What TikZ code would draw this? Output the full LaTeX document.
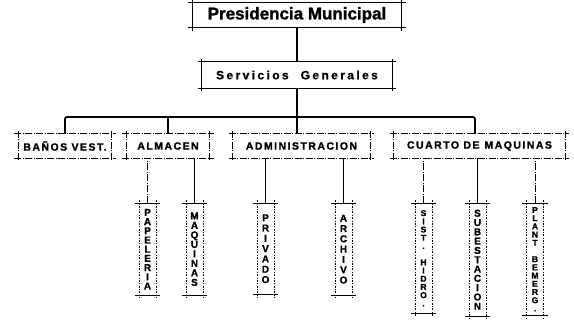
\documentclass[tikz,border=0pt]{standalone}
\usepackage{fontspec}
\setmainfont{Liberation Sans}
\tikzset{
  hand/.style={line width=0.7pt},
  chain/.style={line width=0.7pt, dash pattern=on 7pt off 1.5pt on 1pt off 1.5pt},
  dots/.style={line width=0.6pt, dash pattern=on 2pt off 1.5pt on 0.7pt off 1.5pt},
  main/.style={line width=1.7pt},
  crossbox/.style 2 args={inner sep=0pt, append after command={
      ([xshift=-4pt]\tikzlastnode.north west) edge[#1] ([xshift=4pt]\tikzlastnode.north east)
      ([xshift=-4pt]\tikzlastnode.south west) edge[#1] ([xshift=4pt]\tikzlastnode.south east)
      ([yshift=3pt]\tikzlastnode.north west) edge[#2] ([yshift=-3pt]\tikzlastnode.south west)
      ([yshift=3pt]\tikzlastnode.north east) edge[#2] ([yshift=-3pt]\tikzlastnode.south east)}},
  chief/.style={crossbox={hand}{hand}, minimum height=25pt,
    font=\fontsize{17}{18}\selectfont\bfseries\addfontfeature{FakeBold=1.5}},
  office/.style={crossbox={chain}{chain}, minimum height=24pt,
    font=\fontsize{10.5}{12}\selectfont\bfseries\addfontfeature{LetterSpace=14,FakeBold=1.5}},
  room/.style={crossbox={hand}{dots}, minimum width=17pt, anchor=north, align=center,
    font=\fontsize{10}{#1}\selectfont\bfseries\addfontfeature{FakeBold=1.2}},
  tallroom/.style={room=#1, font=\fontsize{8.5}{#1}\selectfont\bfseries\addfontfeature{FakeBold=1.2}},
}

\begin{document}
\begin{tikzpicture}[x=1pt,y=-1pt]
    \useasboundingbox (0,0) rectangle (574,327);

    \node[chief, minimum width=209pt] (pres) at (297,15) {Presidencia Municipal};
    \node[chief, minimum width=190pt, minimum height=26pt,
      font=\fontsize{12}{14}\selectfont\bfseries\addfontfeature{LetterSpace=20,FakeBold=1}] (serv) at (297,75) {Servicios\hspace{12pt}Generales};
    \coordinate (bus) at (0,117);

    \node[office, minimum width=93pt] (banos) at (65,146) {BAÑOS VEST.};
    \node[office, minimum width=83pt] (almacen) at (168,146) {ALMACEN};
    \node[office, minimum width=137pt] (admin) at (301.5,146) {ADMINISTRACION};
    \node[office, minimum width=171pt] (cuarto) at (479.5,146) {CUARTO DE\hspace{5pt}MAQUINAS};
    \coordinate (cdrop) at ([xshift=-4.5pt]cuarto.north);

    \node[room=9.2, minimum height=92pt] (papeleria) at (147.5,203) {P\\A\\P\\E\\L\\E\\R\\I\\A};
    \node[room=9.5, minimum height=92pt] (maquinas) at (194.5,203) {M\\A\\Q\\U\\I\\N\\A\\S};
    \node[room=10.3, minimum height=91pt] (privado) at (265.5,203) {P\\R\\I\\V\\A\\D\\O};
    \node[room=10.3, minimum height=92pt] (archivo) at (343.5,203) {A\\R\\C\\H\\I\\V\\O};
    \node[tallroom=8.2, minimum height=110pt] (sist) at (423.5,203) {S\\I\\S\\T\\.\\~\\H\\I\\D\\R\\O\\.};
    \node[room=9.3, minimum height=113pt] (subest) at (477.5,203) {S\\U\\B\\E\\S\\T\\A\\C\\I\\O\\N};
    \node[tallroom=8.2, minimum height=112pt] (plant) at (535,203) {P\\L\\A\\N\\T\\~\\B\\E\\M\\E\\R\\G\\.};

    % main lines
    \draw[main] (pres) -- (serv);
    \draw[main] (serv.south) -- (serv.south |- admin.north);
    \draw[main, rounded corners=2pt] (banos.north) |- (cdrop |- bus) -- (cdrop);
    \draw[main] (almacen.north) -- (almacen.north |- bus);

    % lower lines
    \draw[chain] (papeleria.north) -- (papeleria.north |- almacen.south);
    \draw[hand] (maquinas.north) -- (maquinas.north |- almacen.south);
    \draw[hand] (privado.north) -- (privado.north |- admin.south);
    \draw[hand] (archivo.north) -- (archivo.north |- admin.south);
    \draw[chain] (sist.north) -- (sist.north |- cuarto.south);
    \draw[hand] (subest.north) -- (subest.north |- cuarto.south);
    \draw[chain] (plant.north) -- (plant.north |- cuarto.south);
\end{tikzpicture}
\end{document}
